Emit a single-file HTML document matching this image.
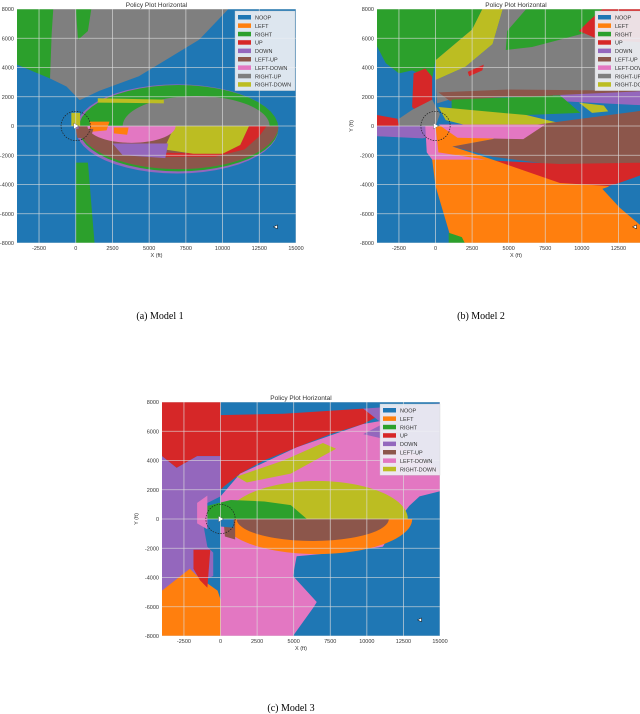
<!DOCTYPE html>
<html><head><meta charset="utf-8"><style>
body{margin:0;background:#fff;width:640px;height:714px;overflow:hidden;font-family:"Liberation Sans",sans-serif}
svg{position:absolute;left:0;top:0}
</style></head><body>
<svg id="root" width="640" height="714" viewBox="0 0 640 714">
<defs>
<clipPath id="c1"><rect x="17" y="9" width="279" height="234"/></clipPath>
<clipPath id="c2"><rect x="377" y="9" width="263" height="234"/></clipPath>
<clipPath id="c3"><rect x="162" y="402" width="278" height="234"/></clipPath>
</defs>
<text x="160" y="319" font-size="10" text-anchor="middle" font-family="Liberation Serif,serif">(a) Model 1</text>
<text x="481" y="319" font-size="10" text-anchor="middle" font-family="Liberation Serif,serif">(b) Model 2</text>
<text x="291" y="711" font-size="10" text-anchor="middle" font-family="Liberation Serif,serif">(c) Model 3</text>
</svg>
<script>
const colors={NOOP:"#1f77b4",LEFT:"#ff7f0e",RIGHT:"#2ca02c",UP:"#d62728",DOWN:"#9467bd","LEFT-UP":"#8c564b","LEFT-DOWN":"#e377c2","RIGHT-UP":"#7f7f7f","RIGHT-DOWN":"#bcbd22"};
const xTicks=[-2500,0,2500,5000,7500,10000,12500,15000];
const yTicks=[-8000,-6000,-4000,-2000,0,2000,4000,6000,8000];
const legend1=["NOOP","LEFT","RIGHT","UP","DOWN","LEFT-UP","LEFT-DOWN","RIGHT-UP","RIGHT-DOWN"];
const legend3=["NOOP","LEFT","RIGHT","UP","DOWN","LEFT-UP","LEFT-DOWN","RIGHT-DOWN"];
// regions in kft: polygons [action, [[x,y],...]] or ellipses [action, "E"|"U"|"L", cx, cy, rx, ry]
const regions1=[
["RIGHT",[[-4,8],[-1.2,8],[-1.5,6.3],[-1.75,3.25],[-4,4.2]]],
["RIGHT-UP",[[-1.53,8],[10.4,8],[8.4,5.9],[6.1,4.5],[4.3,3.4],[1.6,2.4],[0.27,1.77],[-0.63,2.7],[-1.75,3.25],[-1.64,6.3]]],
["RIGHT",[[0,8],[1.06,8],[0.83,6.5],[0.16,5.9]]],
["RIGHT",[[0,-2.5],[0.83,-2.5],[1.28,-8],[0,-8]]],
["DOWN","E",6.9,-0.2,6.9,3.05],
["RIGHT","E",7.0,-0.15,6.8,2.95],
["RIGHT-UP","U",8.2,0,5.0,2.05],
["RIGHT-DOWN",[[1.5,1.9],[6,1.8],[6,1.55],[1.5,1.6]]],
["LEFT-UP","L",7.0,0,6.8,2.95],
["UP",[[5,-2.1],[9.5,-2.1],[11.5,-1.6],[12.5,-0.7],[13,0],[11.8,0],[11.2,-1.3],[9.5,-1.9],[5,-1.8]]],
["RIGHT-DOWN",[[6.2,0],[11.8,0],[11.2,-1.3],[10,-1.9],[8,-1.9],[6,-1.6],[6.5,-0.5]]],
["DOWN",[[2.5,-1.2],[6.3,-1.2],[6.1,-2.2],[3.2,-2.0]]],
["LEFT-DOWN","L",3.8,0,3.0,1.15],
["LEFT",[[0.95,0.3],[2.3,0.3],[2.1,-0.3],[1.0,-0.4]]],
["LEFT",[[2.6,-0.1],[3.6,-0.1],[3.5,-0.6],[2.6,-0.5]]],
["RIGHT-DOWN",[[-0.3,0.9],[0.3,0.9],[0.3,0],[-0.3,0]]],
["LEFT-UP",[[0,-0.2],[1.2,-0.2],[1.0,-0.9],[0.1,-0.8]]]
];
const regions2=[
["RIGHT",[[-4,8],[3.2,8],[2.5,6.6],[0,4.5],[-0.23,3.25],[-1.6,3.8],[-2.5,3.6],[-3.4,4.3],[-4,5.45]]],
["RIGHT-DOWN",[[3.2,8],[4.6,8],[3.9,5.6],[2.05,4.05],[0,3.14],[0,4.5],[2.5,6.6]]],
["RIGHT-UP",[[4.6,8],[14.5,8],[14.5,2.1],[5.2,2.1],[1.6,2.0],[0.1,1.55],[0,3.14],[2.05,4.05],[3.9,5.6]]],
["RIGHT",[[6.2,8],[14.5,8],[14.5,7.4],[10,6.3],[6.6,5.4],[4.8,5.2],[4.9,6.5]]],
["UP",[[11.4,8],[14.5,8],[14.5,5.7],[11.2,5.9],[9.8,6.5],[10.5,7.2]]],
["UP",[[2.2,3.7],[3.3,4.2],[3.2,3.8],[2.3,3.4]]],
["UP",[[-1.5,3.6],[-0.7,3.93],[-0.23,3.36],[-0.23,1.1],[-1.14,0.86],[-1.6,1.3]]],
["UP",[[-4,0.75],[-2.6,0.5],[-2.5,0],[-4,0]]],
["RIGHT-UP",[[-2.5,0.5],[-1.6,1.1],[-0.23,1.8],[0.3,0.8],[0,0],[-2.5,0]]],
["DOWN",[[-4,0],[0,0],[0,-0.7],[-0.9,-0.85],[-4,-0.7]]],
["LEFT-UP",[[0.2,2.3],[5,2.5],[14.5,2.4],[14.5,2.1],[5,2.0],[1,1.7]]],
["DOWN",[[8,2.1],[14.5,2.4],[14.5,1.4],[10.5,1.6],[8.5,1.7]]],
["RIGHT",[[1.1,1.8],[8.5,2.1],[9.9,0.9],[6.2,0.75],[2.7,0.9],[1.1,1.1]]],
["RIGHT-DOWN",[[0.2,1.3],[6.2,0.75],[9.3,0],[2.3,0],[0.7,0.4]]],
["RIGHT-DOWN",[[9.8,1.6],[11.5,1.4],[11.8,1.0],[10.7,0.9]]],
["LEFT-UP",[[6.2,0],[14.5,1.1],[14.5,-2.6],[8.5,-2.7],[3.9,-2.1],[1.15,-1.4],[3.9,-0.9]]],
["UP",[[2.7,-2.3],[8.5,-2.6],[14.5,-2.5],[14.5,-3.4],[11.8,-4.1],[8.5,-4.0],[3.9,-3.0]]],
["LEFT",[[0,0],[6.2,0],[3.9,-0.9],[1.15,-1.4],[3.9,-2.3],[8.5,-3.9],[11.8,-4.1],[14.5,-6.4],[14.5,-8],[1.15,-8],[0,-4.1],[-0.23,-2.3]]],
["NOOP",[[11.4,-4.3],[14.5,-3.2],[14.5,-7.2],[12.6,-5.6]]],
["LEFT-DOWN",[[-0.7,0],[0,0],[0.2,-1.8],[3.4,-2.3],[-0.23,-2.3],[-0.6,-1.8]]],
["LEFT-DOWN",[[0.2,0.1],[7.5,0.1],[6,-0.9],[1.5,-0.8]]],
["RIGHT",[[0.9,-7.3],[1.8,-7.6],[2,-8],[0.9,-8]]]
];
const regions3=[
["NOOP",[[0,8],[4.3,8],[4.3,7.25],[0,7.1]]],
["UP",[[-4,8],[0,8],[0,7.1],[4.3,7.2],[9.75,7.55],[11.1,7.2],[9.75,6.5],[7.5,5.8],[5.2,4.9],[2.95,4.0],[1.34,3.1],[0.2,2.2],[0,2.0],[0,4.3],[-1.6,4.3],[-3,3.5],[-4,4.3]]],
["DOWN",[[-4,4.3],[-3,3.5],[-1.6,4.3],[0,4.3],[0,1.55],[-1.4,0.85],[-0.9,-1.9],[-0.5,-2.3],[-0.5,-3.9],[-1.6,-4.4],[-4,-4.9]]],
["LEFT-DOWN",[[0,1.55],[1.34,3.1],[5.2,4.9],[9.75,6.5],[15,7.4],[15,0.9],[12.5,0.2],[11.1,-1.9],[7.5,-2.5],[5.2,-3.0],[5,-3.9],[6.8,-5.3],[5.2,-8],[0,-8],[0,-1.4]]],
["NOOP",[[15,1.9],[15,-8],[4.95,-8],[6.6,-5.7],[4.95,-3.9],[5.2,-2.55],[7.95,-2.3],[11.1,-1.9],[12,-0.3],[12.9,0.9],[13.6,1.55]]],
["DOWN",[[9.75,7.55],[15,7.9],[15,3.3],[13.6,4.3],[11.5,5.4],[9.75,5.8],[11.1,6.5]]],
["RIGHT-DOWN",[[1.1,2.9],[4.3,4.0],[7.0,5.2],[7.9,4.8],[4.8,3.1],[1.8,2.5]]],
["RIGHT-DOWN","U",6.6,0,6.2,2.6],
["RIGHT",[[-0.9,0.9],[0.7,1.3],[3,1.2],[4.8,0.95],[5.9,0],[-0.9,0]]],
["LEFT","L",6.6,0,6.5,2.4],
["LEFT-UP","L",6.3,0,5.2,1.5],
["LEFT-UP",[[0.2,0],[1,0],[1,-1.4],[0.3,-1.2]]],
["LEFT-DOWN",[[-1.6,1.1],[-0.9,1.6],[-0.9,-0.7],[-1.6,-0.3]]],
["LEFT",[[-4,-4.9],[-2.1,-3.4],[-1.6,-3.9],[-0.9,-4.4],[-0.2,-4.9],[0,-5.5],[0,-8],[-4,-8]]],
["UP",[[-1.85,-2.1],[-0.7,-2.1],[-0.9,-4.7],[-1.4,-4.2],[-1.85,-3.4]]],
["NOOP",[[-0.1,0],[0.9,0],[0.9,-0.6],[-0.1,-0.5]]]
];
const svg=document.getElementById('root');
const NS="http://www.w3.org/2000/svg";
function mk(tag,attrs,parent){const e=document.createElementNS(NS,tag);for(const k in attrs)e.setAttribute(k,attrs[k]);(parent||svg).appendChild(e);return e;}
function panel(cfg,regions,legend,idx){
  const sx=v=>cfg.x0+(v+4)/19*(cfg.x1-cfg.x0);
  const sy=v=>cfg.y1-(v+8)/16*(cfg.y1-cfg.y0);
  const g=mk('g',{'clip-path':`url(#c${idx})`});
  
  
  mk('rect',{x:cfg.x0,y:cfg.y0,width:cfg.x1-cfg.x0,height:cfg.y1-cfg.y0,fill:colors.NOOP},g);
  regions.forEach(r=>{
    let pts;
    if(r[1]==="E"||r[1]==="U"||r[1]==="L"){
      const [a,t,cx,cy,rx,ry]=r;pts=[];
      const a0=t==="L"?Math.PI:0,a1=t==="U"?Math.PI:2*Math.PI;
      for(let i=0;i<=48;i++){const th=a0+(a1-a0)*i/48;pts.push([cx+rx*Math.cos(th),cy+ry*Math.sin(th)]);}
    }else pts=r[1];
    const p=mk('polygon',{points:pts.map(q=>sx(q[0])+','+sy(q[1])).join(' '),fill:colors[r[0]]},g);
    
    
  });
  xTicks.forEach(t=>{const x=sx(t/1000);mk('line',{x1:x,x2:x,y1:cfg.y0,y2:cfg.y1,stroke:'#ddd','stroke-width':0.8,opacity:0.8},g);
    const tx=mk('text',{x:x,y:cfg.y1+7,'font-size':5.5,'text-anchor':'middle',fill:'#333'});tx.textContent=t;
    
    });
  yTicks.forEach(t=>{const y=sy(t/1000);mk('line',{x1:cfg.x0,x2:cfg.x1,y1:y,y2:y,stroke:'#ddd','stroke-width':0.8,opacity:0.8},g);
    const tx=mk('text',{x:cfg.x0-3,y:y+2,'font-size':5.5,'text-anchor':'end',fill:'#333'});tx.textContent=t;
    
    });
  mk('circle',{cx:sx(0),cy:sy(0),r:(cfg.x1-cfg.x0)/19,fill:'none',stroke:'#222','stroke-width':0.7,'stroke-dasharray':'1.5,1.2'},g);
  mk('polygon',{points:`${sx(0)-2},${sy(0)-3} ${sx(0)+3},${sy(0)} ${sx(0)-2},${sy(0)+3}`,fill:'#fff',stroke:'#333','stroke-width':0.3},g);
  mk('polygon',{points:`${sx(13.6)+2},${sy(-6.9)-2} ${sx(13.6)-2},${sy(-6.9)} ${sx(13.6)+2},${sy(-6.9)+2}`,fill:'#fff',stroke:'#000','stroke-width':0.5},g);
  const ti=mk('text',{x:(cfg.x0+cfg.x1)/2,y:cfg.y0-2,'font-size':6.5,'text-anchor':'middle',fill:'#333'});ti.textContent='Policy Plot Horizontal';
  
  
  const xl=mk('text',{x:(cfg.x0+cfg.x1)/2,y:cfg.y1+14,'font-size':5.5,'text-anchor':'middle',fill:'#333'});xl.textContent='X (ft)';
  
  
  if(idx>1){const yl=mk('text',{x:cfg.x0-24,y:(cfg.y0+cfg.y1)/2,'font-size':5.5,'text-anchor':'middle',fill:'#333',transform:`rotate(-90 ${cfg.x0-24} ${(cfg.y0+cfg.y1)/2})`});yl.textContent='Y (ft)';
    
    }
  const lg=mk('g',{});
  
  
  mk('rect',{x:cfg.lx,y:cfg.ly,width:60,height:legend.length*8.4+4,fill:'#eef0f5',opacity:0.92,stroke:'#ccc','stroke-width':0.4},lg);
  legend.forEach((k,i)=>{
    const y=cfg.ly+4+i*8.4;
    mk('rect',{x:cfg.lx+3,y:y,width:13,height:4.5,fill:colors[k]},lg);
    const t=mk('text',{x:cfg.lx+20,y:y+4.5,'font-size':5.5,fill:'#333'},lg);t.textContent=k;
    
    
  });
}
panel({x0:17,x1:296,y0:9,y1:243,lx:235,ly:11},regions1,legend1,1);
panel({x0:377,x1:655,y0:9,y1:243,lx:595,ly:11},regions2,legend1,2);
panel({x0:162,x1:440,y0:402,y1:636,lx:380,ly:404},regions3,legend3,3);
</script>
</body></html>
